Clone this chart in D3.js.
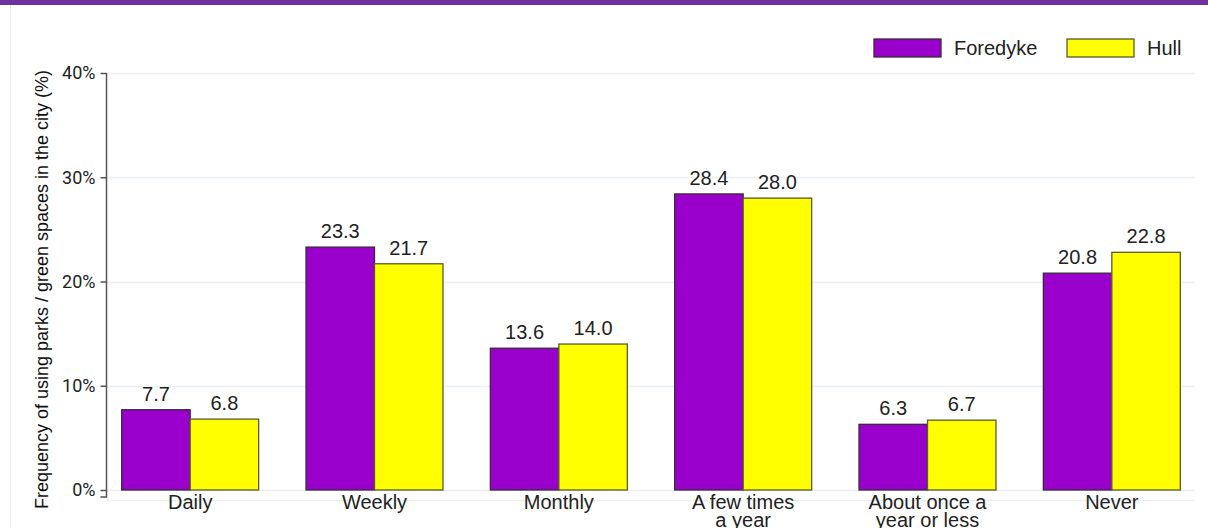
<!DOCTYPE html>
<html>
<head>
<meta charset="utf-8">
<script src="https://cdn.jsdelivr.net/npm/d3@7"></script>
<style>
    body { margin: 0; background: #fff; }
    svg { display: block; font-family: "Liberation Sans", Arial, sans-serif; }
</style>
</head>
<body>
<div id="chart"></div>
<script>
// chart values
const categories = ["Daily", "Weekly", "Monthly", "A few times|a year", "About once a|year or less", "Never"]
const seriesNames = ["Foredyke", "Hull"]
const foredyke = [7.7, 23.3, 13.6, 28.4, 6.3, 20.8]
const hull = [6.8, 21.7, 14.0, 28.0, 6.7, 22.8]
const yTicks = [0, 10, 20, 30, 40]

const colors = { Foredyke: "#9900cc", Hull: "#ffff00" }
const strokes = { Foredyke: "#3a2a3a", Hull: "#5a5a2a" }

const width = 1208,
    height = 528
const margin = ({ top: 73, right: 4, bottom: 38, left: 98 })

const svg = d3.select("#chart").append("svg")
    .attr("width", width)
    .attr("height", height)

// purple strip at the top and faint panel border
svg.append("rect")
    .attr("x", 0).attr("y", 0)
    .attr("width", width).attr("height", 5)
    .attr("fill", "#7030a0")
svg.append("line")
    .attr("x1", 10.5).attr("x2", 10.5)
    .attr("y1", 5).attr("y2", height)
    .attr("stroke", "#e6ecee")

const x = d3.scaleBand()
    .domain(categories)
    .range([margin.left, width - margin.right])
    .paddingInner(0.257)
    .paddingOuter(0.1285)

const xSub = d3.scaleBand()
    .domain(seriesNames)
    .range([0, x.bandwidth()])

const y = d3.scaleLinear()
    .domain([0, 40])
    .range([height - margin.bottom, margin.top])

// gridlines
svg.append("g")
    .selectAll("line")
    .data(yTicks)
    .join("line")
    .attr("x1", 106)
    .attr("x2", 1194)
    .attr("y1", d => Math.round(y(d)) + 0.5)
    .attr("y2", d => Math.round(y(d)) + 0.5)
    .attr("stroke", "#e9eff2")
    .attr("stroke-width", 1.5)
svg.append("line")
    .attr("x1", 106).attr("x2", 1194)
    .attr("y1", y(0) + 10.5).attr("y2", y(0) + 10.5)
    .attr("stroke", "#e9eff2")
    .attr("stroke-width", 1.5)

// y axis
const yAxis = g => g
    .attr("transform", `translate(106.5,0)`)
    .call(d3.axisLeft(y).tickValues(yTicks).tickFormat(d => d + "%").tickSize(6).tickSizeOuter(0))
    .call(g => g.select(".domain").remove())
    .call(g => g.selectAll(".tick line").attr("stroke", "#555").attr("stroke-width", 1.5))
    .call(g => g.selectAll(".tick text")
        .attr("x", -11)
        .style("font-size", "18px")
        .style("font-family", "Roboto, 'Liberation Sans', Arial, sans-serif")
        .attr("fill", "#222"))

svg.append("g").call(yAxis)
svg.append("path")
    .attr("d", `M100.5,${y(0) + 7}H106.5V${y(40)}`)
    .attr("fill", "none")
    .attr("stroke", "#555")
    .attr("stroke-width", 1.5)

// y title
svg.append("text")
    .attr("transform", `translate(48,${(y(40) + y(0)) / 2 + 8}) rotate(-90)`)
    .attr("text-anchor", "middle")
    .attr("font-size", 18)
    .attr("fill", "#111")
    .text("Frequency of using parks / green spaces in the city (%)")

// bars
const rows = categories.map((c, i) => ({ cat: c, Foredyke: foredyke[i], Hull: hull[i] }))

const groups = svg.append("g")
    .selectAll("g")
    .data(rows)
    .join("g")
    .attr("transform", d => `translate(${x(d.cat)},0)`)

groups.selectAll("rect")
    .data(d => seriesNames.map(s => ({ key: s, value: d[s] })))
    .join("rect")
    .attr("x", d => xSub(d.key))
    .attr("y", d => y(d.value))
    .attr("width", xSub.bandwidth())
    .attr("height", d => y(0) - y(d.value))
    .attr("fill", d => colors[d.key])
    .attr("stroke", d => strokes[d.key])
    .attr("stroke-width", 1.3)

groups.selectAll("text.val")
    .data(d => seriesNames.map(s => ({ key: s, value: d[s] })))
    .join("text")
    .attr("class", "val")
    .attr("x", d => xSub(d.key) + xSub.bandwidth() / 2)
    .attr("y", d => y(d.value) - 9)
    .attr("text-anchor", "middle")
    .attr("font-size", 20)
    .attr("fill", "#222")
    .text(d => d3.format(".1f")(d.value))

// category labels
const catLabels = svg.append("g")
    .selectAll("text")
    .data(categories)
    .join("text")
    .attr("x", d => x(d) + x.bandwidth() / 2)
    .attr("y", y(0) + 19)
    .attr("text-anchor", "middle")
    .attr("font-size", 20)
    .attr("fill", "#222")

catLabels.selectAll("tspan")
    .data(d => d.split("|"))
    .join("tspan")
    .attr("x", function () { return d3.select(this.parentNode).attr("x") })
    .attr("dy", (d, i) => i ? 18 : 0)
    .text(d => d)

// legend
const legend = svg.append("g")
    .selectAll("g")
    .data(seriesNames)
    .join("g")
    .attr("transform", (d, i) => `translate(${[874, 1067][i]},39)`)

legend.append("rect")
    .attr("width", 67)
    .attr("height", 18)
    .attr("fill", d => colors[d])
    .attr("stroke", d => strokes[d])
    .attr("stroke-width", 1.3)

legend.append("text")
    .attr("x", 80)
    .attr("y", 16)
    .attr("font-size", 20)
    .attr("fill", "#222")
    .text(d => d)
</script>
</body>
</html>
